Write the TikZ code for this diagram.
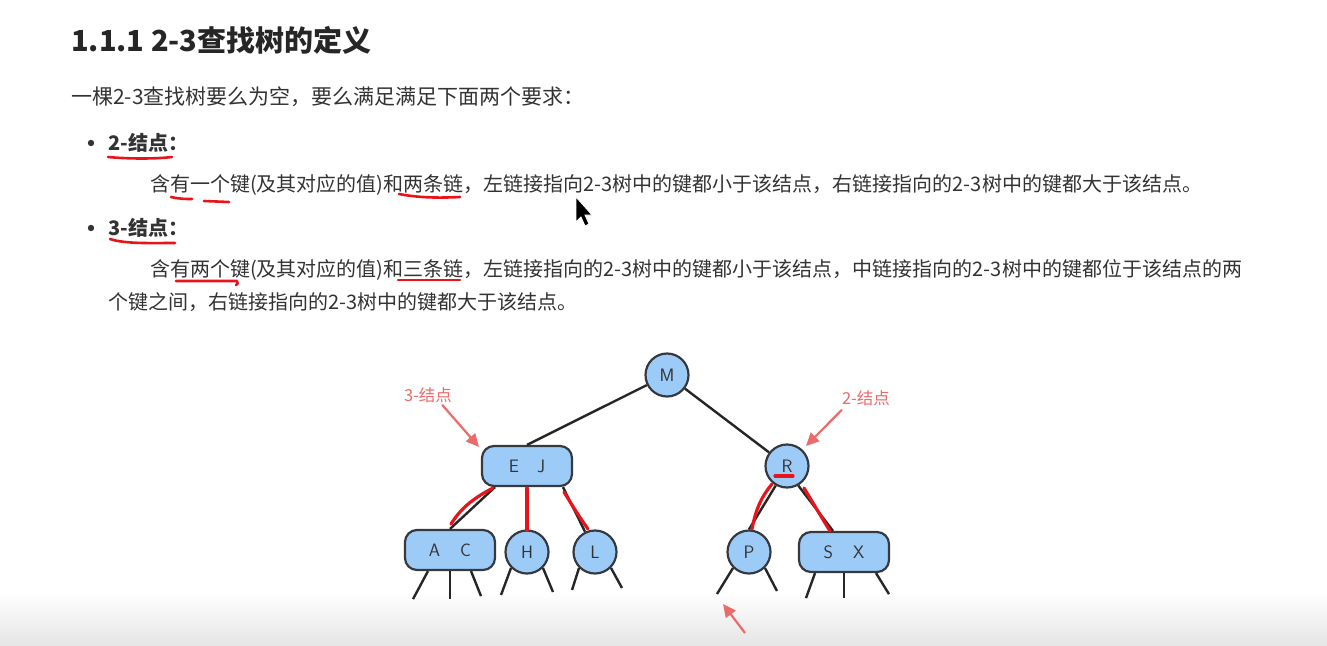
\documentclass[tikz,border=0pt]{standalone}
\usepackage{fontspec}
\setmainfont{Noto Sans CJK SC}
\newfontfamily\cjk{Noto Sans CJK SC}
\usetikzlibrary{arrows.meta}
\definecolor{txt}{HTML}{333333}
\definecolor{ttl}{HTML}{262626}
\definecolor{nodefill}{HTML}{9DCBF8}
\definecolor{nodeline}{HTML}{363A3F}
\definecolor{ann}{HTML}{EB6B6B}
\definecolor{pen}{HTML}{E8141A}
\tikzset{
  body/.style={anchor=west, inner sep=0pt, text=txt, font=\cjk\fontsize{20}{20}\selectfont},
  circ/.style={circle, draw=nodeline, line width=2.2pt, fill=nodefill, minimum size=43pt, inner sep=0pt, text=txt, font=\sffamily\fontsize{18}{18}\selectfont},
  pair/.style={rectangle, rounded corners=12pt, draw=nodeline, line width=2.2pt, fill=nodefill, minimum width=90pt, minimum height=40pt, inner sep=0pt, text=txt, font=\sffamily\fontsize{18}{18}\selectfont},
  edge/.style={draw=black!85, line width=2.4pt},
  redpen/.style={draw=pen, line width=3.2pt, line cap=round, line join=round},
  annot/.style={text=ann, inner sep=0pt, font=\cjk\fontsize{16.5}{16.5}\selectfont},
  annarrow/.style={draw=ann, line width=2.2pt, -{Triangle[length=13pt,width=12pt]}}
}
\begin{document}
\begin{tikzpicture}[x=1pt,y=-1pt]
\useasboundingbox (0,0) rectangle (1327,645);
\fill[white] (0,0) rectangle (1327,645);
\shade[top color=white, bottom color=black!10] (0,592) rectangle (1327,645);

% text
\node[anchor=west, inner sep=0pt, text=ttl, font=\cjk\bfseries\fontsize{29}{29}\selectfont] (title) at (71,40) {1.1.1 2-3查找树的定义};
\node[body, font=\cjk\fontsize{21}{21}\selectfont] (intro) at (71,97) {一棵2-3查找树要么为空，要么满足满足下面两个要求：};
\fill[txt] (91,143) circle (3.2pt);
\node[body, font=\cjk\bfseries\fontsize{20}{20}\selectfont] (h2) at (108,143) {2-结点：};
\node[body] (d2) at (150,185) {含有一个键(及其对应的值)和两条链，左链接指向2-3树中的键都小于该结点，右链接指向的2-3树中的键都大于该结点。};
\fill[txt] (91,228) circle (3.2pt);
\node[body, font=\cjk\bfseries\fontsize{20}{20}\selectfont] (h3) at (108,228) {3-结点：};
\node[body] (d3a) at (150,270) {含有两个键(及其对应的值)和三条链，左链接指向的2-3树中的键都小于该结点，中链接指向的2-3树中的键都位于该结点的两};
\node[body] (d3b) at (108,302) {个键之间，右链接指向的2-3树中的键都大于该结点。};

% red underlines in text
\draw[redpen, line width=2.6pt] (108,157) .. controls (130,159) and (155,159) .. (172,157);
\draw[redpen, line width=2.6pt] (171,197) .. controls (180,199) and (185,199) .. (192,199) (204,201) -- (229,202);
\draw[redpen, line width=2.6pt] (399,194) .. controls (420,198) and (440,198) .. (460,197);
\draw[redpen, line width=2.6pt] (110,239) .. controls (125,244) and (150,243) .. (175,243);
\draw[redpen, line width=2.6pt] (176,281) -- (237,281) .. controls (238,284) .. (236,285);
\draw[redpen, line width=2.6pt] (398,280) -- (460,280);

% mouse cursor
\draw[fill=black, draw=white, line width=0.8pt] (576,197) -- (576,222) -- (581,217) -- (585,226) -- (589,224) -- (585,215) -- (592,215) -- cycle;

% tree nodes
\node[circ] (M) at (667,375) {M};
\node[pair] (EJ) at (527,466) {E\hspace{18pt}J};
\node[circ] (R) at (787,466) {R};
\node[pair] (AC) at (450,550) {A\hspace{20pt}C};
\node[circ] (H) at (527,552) {H};
\node[circ] (L) at (595,552) {L};
\node[circ] (P) at (749,552) {P};
\node[pair] (SX) at (844,552) {S\hspace{20pt}X};

% tree edges
\draw[edge] (M) -- (EJ.north);
\draw[edge] (M) -- (R);
\draw[edge] ([xshift=-32pt]EJ.south) -- (AC.north);
\draw[edge] (EJ.south) -- (H);
\draw[edge] ([xshift=36pt]EJ.south) -- (L);
\draw[edge] (R.-120) -- (P.north);
\draw[edge] (R.-60) -- ([xshift=-11pt]SX.north);

% leaf links
\draw[edge] ([xshift=-22pt]AC.south) -- ++(-15,28);
\draw[edge] (AC.south) -- ++(0,28);
\draw[edge] ([xshift=21pt]AC.south) -- ++(10,25);
\draw[edge] (H.south west) -- ++(-10,27);
\draw[edge] (H.south east) -- ++(10,24);
\draw[edge] (L.south west) -- ++(-7,22);
\draw[edge] (L.south east) -- ++(11,20);
\draw[edge] (P.south west) -- ++(-16,26);
\draw[edge] (P.south east) -- ++(12,23);
\draw[edge] ([xshift=-29pt]SX.south) -- ++(-9,25);
\draw[edge] (SX.south) -- ++(0,25);
\draw[edge] ([xshift=32pt]SX.south) -- ++(13,21);

% red hand-drawn marks
\draw[redpen] (493,488) .. controls (470,500) and (460,510) .. (451,524);
\draw[redpen] (527,488) -- (527,530);
\draw[redpen] (564,492) .. controls (572,505) and (578,515) .. (588,529);
\draw[redpen] (775,476) -- (793,476);
\draw[redpen] (772,484) .. controls (762,496) and (756,508) .. (752,529);
\draw[redpen] (804,488) .. controls (813,503) and (822,518) .. (830,531);

% annotations
\node[annot] (lab3) at (428,395) {3-结点};
\node[annot] (lab2) at (866,398) {2-结点};
\draw[annarrow] (lab3.south east) ++(-10,2) -- (479,447);
\draw[annarrow] (lab2.south west) ++(0,4) -- (806,446);
\coordinate (bt) at (745,633);
\draw[annarrow] (bt) -- ++(-22,-29);
\end{tikzpicture}
\end{document}
